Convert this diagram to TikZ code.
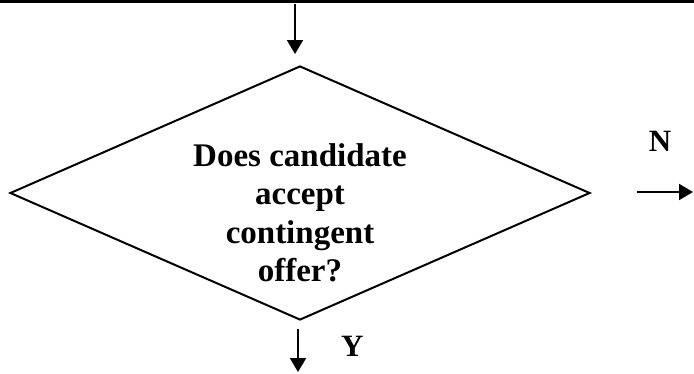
\documentclass[tikz,border=0pt]{standalone}
\usepackage{fontspec}
\setmainfont{Liberation Serif}
\usepackage{tikz}
\usetikzlibrary{shapes.geometric,arrows.meta,positioning,calc}

\begin{document}
\begin{tikzpicture}[
    x=1pt, y=-1pt,
    decision/.style={diamond, draw, line width=2pt, minimum width=580pt, minimum height=254pt, inner sep=0pt},
    question/.style={align=center, inner sep=0pt, font=\bfseries\fontsize{33}{38.5}\selectfont},
    answer/.style={inner sep=0pt, font=\bfseries\fontsize{31}{36}\selectfont},
    arrow/.style={-{Triangle[length=14pt,width=16pt]}, line width=2pt}
]
\useasboundingbox (0,0) rectangle (694,373);

% Frame line
\draw[line width=2.5pt] (0,1.25) -- (694,1.25);

% Nodes
\node[decision] (accept) at (300,193) {};
\node[question] (asktext) at (300,213) {Does candidate\\accept\\contingent\\offer?};
\coordinate (enter) at (295,4);
\coordinate (yes) at (298,372);
\coordinate (no) at (693,192);

% Arrows
\draw[arrow, shorten >=11pt] (enter) -- (enter |- accept.north);
\draw[arrow, shorten <=8pt] (accept.south -| yes) -- node[answer, right=42pt] {Y} (yes);
\draw[arrow, shorten <=46pt] (accept.east |- no) -- node[answer, above=40pt, xshift=18pt] {N} (no);

\end{tikzpicture}
\end{document}
